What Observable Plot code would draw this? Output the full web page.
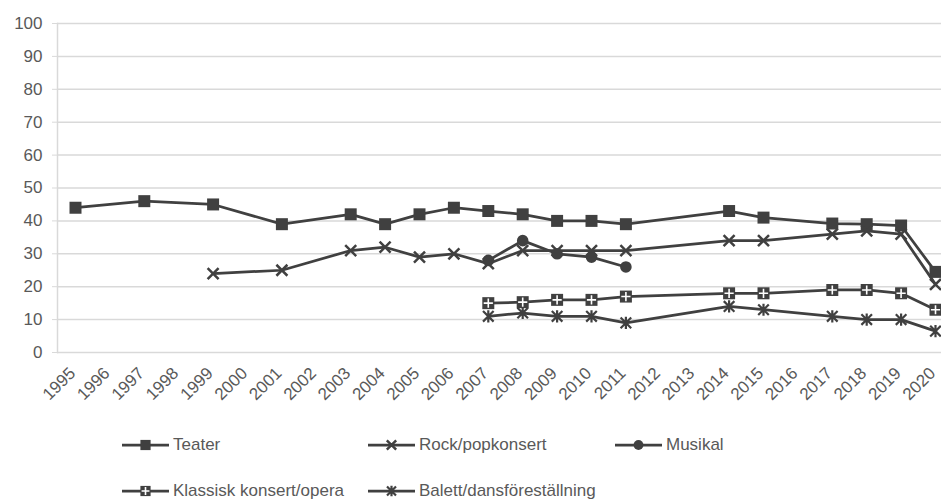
<!DOCTYPE html>
<html>
<head>
<meta charset="utf-8">
<script src="https://cdn.jsdelivr.net/npm/d3@7"></script>
<script src="https://cdn.jsdelivr.net/npm/@observablehq/plot@0.6"></script>
<style>
  html, body { margin: 0; padding: 0; background: #fff; }
  #wrap { position: relative; width: 941px; height: 501px; font-family: "Liberation Sans", Arial, sans-serif; }
  .leg { position: absolute; display: flex; align-items: center; font-size: 17px; color: #595959; white-space: nowrap; }
  .leg svg { display: block; margin-right: 4px; }
</style>
</head>
<body>
<div id="wrap"></div>
<script>
// ---- data ----
const years = [1995,1996,1997,1998,1999,2000,2001,2002,2003,2004,2005,2006,2007,2008,2009,2010,2011,2012,2013,2014,2015,2016,2017,2018,2019,2020];
const yTicks = [0,10,20,30,40,50,60,70,80,90,100];
const seriesNames = ["Teater","Rock/popkonsert","Musikal","Klassisk konsert/opera","Balett/dansföreställning"];
const teater   = [44,null,46,null,45,null,39,null,42,39,42,44,43,42,40,40,39,null,null,43,41,null,39.2,39,38.6,24.5];
const rockpop  = [null,null,null,null,24,null,25,null,31,32,29,30,27,31,31,31,31,null,null,34,34,null,36,37,36,20.7];
const musikal  = [null,null,null,null,null,null,null,null,null,null,null,null,28,34,30,29,26,null,null,null,null,null,null,null,null,null];
const klassisk = [null,null,null,null,null,null,null,null,null,null,null,null,15,15.3,16,16,17,null,null,18,18,null,19,19,18,13];
const balett   = [null,null,null,null,null,null,null,null,null,null,null,null,11,12,11,11,9,null,null,14,13,null,11,10,10,6.5];
const seriesValues = [teater, rockpop, musikal, klassisk, balett];

// ---- custom symbols (r = half extent) ----
const R = size => Math.sqrt(size / Math.PI);
const symSquare = { draw(c, s) { const r = R(s); c.rect(-r, -r, 2*r, 2*r); } };
const symTimes  = { draw(c, s) { const r = R(s); c.moveTo(-r,-r); c.lineTo(r,r); c.moveTo(-r,r); c.lineTo(r,-r); } };
const symCircle = { draw(c, s) { const r = R(s); c.moveTo(r,0); c.arc(0,0,r,0,2*Math.PI); } };
const symPlus   = { draw(c, s) { const r = R(s); c.moveTo(-r,0); c.lineTo(r,0); c.moveTo(0,-r); c.lineTo(0,r); } };
const symStar   = { draw(c, s) { const r = R(s); c.moveTo(-r,-r); c.lineTo(r,r); c.moveTo(-r,r); c.lineTo(r,-r); c.moveTo(0,-r*1.15); c.lineTo(0,r*1.15); } };

const ink = "#404040";
const styles = [
  [{symbol: symSquare, r: 6, fill: ink, stroke: "none"}],
  [{symbol: symTimes, r: 5.5, fill: "none", stroke: ink, strokeWidth: 2.5}],
  [{symbol: symCircle, r: 5.8, fill: ink, stroke: "none"}],
  [{symbol: symSquare, r: 6, fill: ink, stroke: "none"}, {symbol: symPlus, r: 4.6, fill: "none", stroke: "#fff", strokeWidth: 1.6}],
  [{symbol: symStar, r: 5.3, fill: "none", stroke: ink, strokeWidth: 2.2}]
];

const H = 420;
const marks = [
  Plot.ruleY(yTicks, {stroke: "#d9d9d9", strokeWidth: 1.5}),
  Plot.frame({anchor: "left", stroke: "#d9d9d9", strokeWidth: 1.5}),
  Plot.axisY({ticks: yTicks, label: null, tickSize: 5, tickPadding: 10, stroke: "#d9d9d9", fill: "#595959", fontSize: 17}),
  Plot.axisX({ticks: years, label: null, tickFormat: d => String(d), tickRotate: -45, tickSize: 0, tickPadding: 18, dx: -3, fill: "#595959", fontSize: 17})
];
seriesNames.forEach((name, i) => {
  const rows = years.map((y, j) => ({year: y, value: seriesValues[i][j], series: name})).filter(d => d.value != null);
  marks.push(Plot.line(rows, {x: "year", y: "value", stroke: ink, strokeWidth: 2.75, strokeLinejoin: "round"}));
  styles[i].forEach(st => marks.push(Plot.dot(rows, {x: "year", y: "value", ...st})));
});

const chart = Plot.plot({
  width: 941,
  height: H,
  marginLeft: 57,
  marginRight: 0,
  marginTop: 23,
  marginBottom: H - 352,
  style: {fontFamily: '"Liberation Sans", Arial, sans-serif', fontSize: "17px", color: "#595959", background: "#fff"},
  x: {type: "linear", domain: [1995, 2020], range: [75, 935], axis: null},
  y: {domain: [0, 100], range: [352, 23], axis: null},
  marks
});
const wrap = document.getElementById("wrap");
chart.style.display = "block";
wrap.appendChild(chart);

// ---- legend (HTML below the SVG) ----
const legPos = [
  {x: 122, y: 445}, {x: 368, y: 445}, {x: 615, y: 445},
  {x: 122, y: 491}, {x: 368, y: 491}
];
seriesNames.forEach((name, i) => {
  const div = document.createElement("div");
  div.className = "leg";
  div.style.left = legPos[i].x + "px";
  div.style.top = (legPos[i].y - 12) + "px";
  div.style.height = "24px";
  const sw = d3.create("svg").attr("width", 47).attr("height", 20);
  sw.append("line").attr("x1", 0).attr("x2", 47).attr("y1", 10).attr("y2", 10).attr("stroke", ink).attr("stroke-width", 2.75);
  styles[i].forEach(st => {
    const r = st.r * 0.85;
    sw.append("path")
      .attr("transform", "translate(23.5,10)")
      .attr("d", d3.symbol(st.symbol, Math.PI * r * r)())
      .attr("fill", st.fill).attr("stroke", st.stroke).attr("stroke-width", st.strokeWidth || 0);
  });
  div.appendChild(sw.node());
  const span = document.createElement("span");
  span.textContent = name;
  div.appendChild(span);
  wrap.appendChild(div);
});
</script>
</body>
</html>
